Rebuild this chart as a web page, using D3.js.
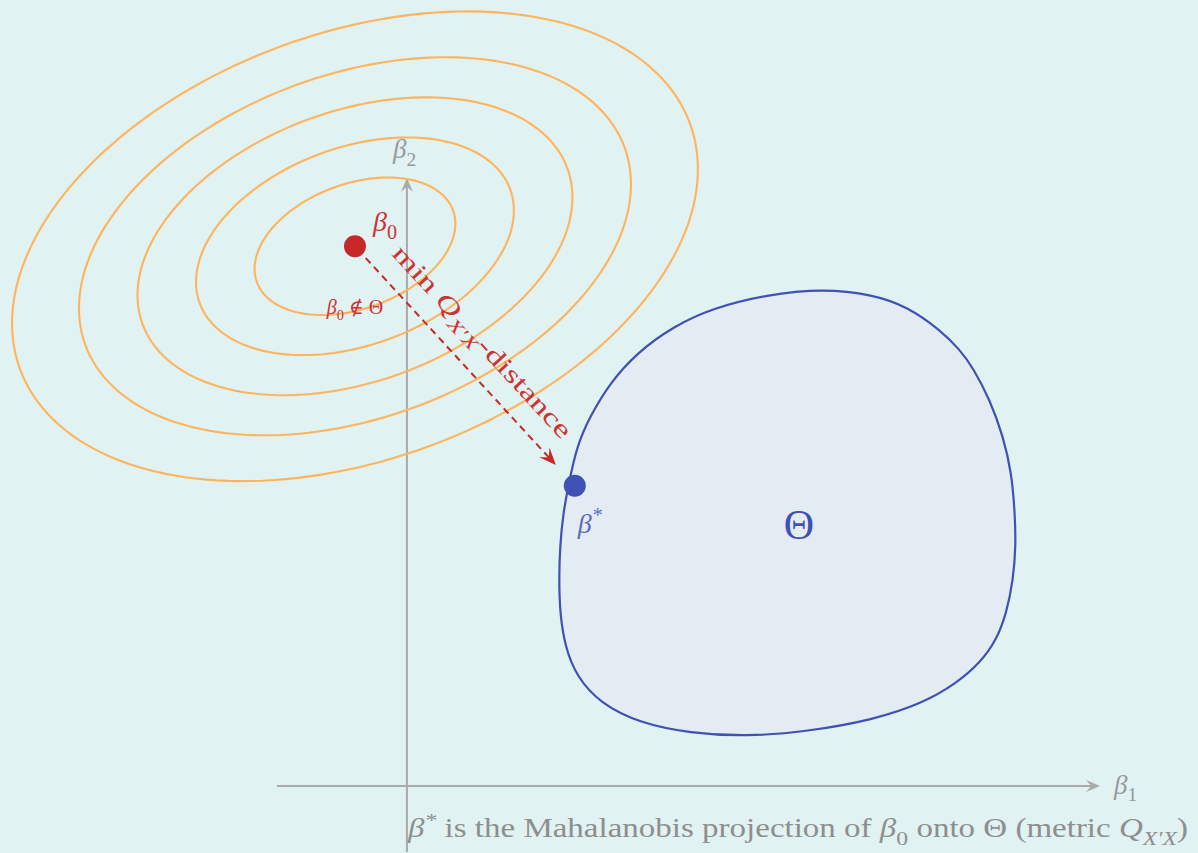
<!DOCTYPE html>
<html>
<head>
<meta charset="utf-8">
<script src="https://cdn.jsdelivr.net/npm/d3@7"></script>
<style>
  html, body { margin: 0; padding: 0; background: #e0f2f1; }
  svg { display: block; }
</style>
</head>
<body>
<svg id="chart" width="1198" height="853"></svg>
<script>
// ---- Geometry in (β1, β2) coordinates ----
const xDomain = [-1.2, 6.4];
const yDomain = [-0.61, 5.61];

const beta0 = [-0.48, 4.98];          // unconstrained estimate
const betaStar = [1.55, 2.77];        // projection onto Θ
const thetaLabelPos = [3.62, 2.39];

// Q_{X'X} contour ellipses around β0: levels of the Mahalanobis distance
const contourLevels = [0.6, 0.95, 1.3, 1.65, 2.05];
const unitSemiAxes = [1.607, 0.960];  // semi-axes of the level-1 ellipse
const contourAngleDeg = 20.1;

// Boundary of the feasible set Θ (closed smooth curve)
const thetaX = [3.844, 4.306, 4.614, 4.922, 5.106, 5.229, 5.383, 5.506, 5.584, 5.614, 5.623, 5.598, 5.537,
                5.445, 5.291, 5.076, 4.767, 4.306, 3.691, 3.137, 2.613, 2.151, 1.782, 1.567, 1.459, 1.413,
                1.404, 1.413, 1.443, 1.489, 1.567, 1.690, 1.874, 2.121, 2.459, 2.828, 3.321];
const thetaY = [4.589, 4.534, 4.426, 4.211, 4.026, 3.857, 3.564, 3.225, 2.887, 2.518, 2.210, 1.902, 1.595,
                1.348, 1.133, 0.948, 0.764, 0.609, 0.501, 0.455, 0.487, 0.579, 0.764, 1.009, 1.286, 1.595,
                1.902, 2.210, 2.518, 2.764, 3.133, 3.410, 3.718, 3.995, 4.241, 4.411, 4.534];

// ---- Colours ----
const C = {
  bg: "#e0f2f1",
  contour: "#ffb35c",
  theta: "#3f51b5",
  thetaFill: "#e4ecf3",
  red: "#c62828",
  redText: "#cc3333",
  blueText: "#5c6bc0",
  axis: "#aaaaaa",
  axisText: "#999999",
  caption: "#8e8e8e"
};

const W = 1198, H = 853;
const svg = d3.select("#chart");
const x = d3.scaleLinear().domain(xDomain).range([277, 1100]);
const y = d3.scaleLinear().domain(yDomain).range([852, 178]);

svg.append("rect").attr("width", W).attr("height", H).attr("fill", C.bg);

// Stealth-style arrowhead with its tip at (tx, ty) pointing along angle (radians)
function arrowHead(g, tx, ty, ang, len, half, color) {
  const p = [[0, 0], [-len, half], [-len * 0.62, 0], [-len, -half]];
  const c = Math.cos(ang), s = Math.sin(ang);
  const pts = p.map(([a, b]) => [tx + a * c - b * s, ty + a * s + b * c]);
  g.append("path")
    .attr("d", "M" + pts.map(q => q.join(",")).join("L") + "Z")
    .attr("fill", color);
}

// Rich math-like text: parts are [string, style] with style in i, r, sub, subr, sup
function mathText(g, parts, opts) {
  const t = g.append("text")
    .attr("x", opts.x).attr("y", opts.y)
    .attr("fill", opts.color)
    .attr("font-family", "'Liberation Serif', 'DejaVu Serif', serif")
    .attr("font-size", opts.size)
    .attr("text-anchor", opts.anchor || "start");
  if (opts.rotate) t.attr("transform", `rotate(${opts.rotate},${opts.x},${opts.y})`);
  if (opts.length) t.attr("textLength", opts.length).attr("lengthAdjust", "spacingAndGlyphs");
  let shift = 0;
  parts.forEach(([str, st]) => {
    const ts = t.append("tspan").text(str);
    let target = 0;
    if (st === "sub" || st === "subr") { target = opts.size * 0.28; ts.attr("font-size", opts.size * 0.72); }
    if (st === "sup") { target = -opts.size * 0.38; ts.attr("font-size", opts.size * 0.72); }
    if (st === "i" || st === "sub" || st === "sup") ts.attr("font-style", "italic");
    if (target !== shift) { ts.attr("dy", target - shift); shift = target; }
  });
  return t;
}

// ---- Axes ----
const axes = svg.append("g");
const ox = x(0), oy = y(0);
axes.append("line").attr("x1", x(xDomain[0])).attr("x2", x(xDomain[1]) - 8)
  .attr("y1", oy).attr("y2", oy).attr("stroke", C.axis).attr("stroke-width", 2);
arrowHead(axes, x(xDomain[1]), oy, 0, 14, 6, C.axis);
axes.append("line").attr("x1", ox).attr("x2", ox)
  .attr("y1", y(yDomain[0])).attr("y2", y(yDomain[1]) + 8)
  .attr("stroke", C.axis).attr("stroke-width", 2);
arrowHead(axes, ox, y(yDomain[1]), -Math.PI / 2, 14, 6, C.axis);

mathText(axes, [["β", "i"], ["1", "subr"]], { x: x(xDomain[1]) + 14, y: oy + 8, size: 27, color: C.axisText });
mathText(axes, [["β", "i"], ["2", "subr"]], { x: ox - 14, y: y(yDomain[1]) - 20, size: 27, color: C.axisText });

// ---- Contours of the quadratic form around β0 ----
const phi = contourAngleDeg * Math.PI / 180;
const line = d3.line().x(d => x(d[0])).y(d => y(d[1])).curve(d3.curveLinearClosed);
const contours = svg.append("g");
contourLevels.forEach(c => {
  const pts = d3.range(0, 360, 2).map(deg => {
    const t = deg * Math.PI / 180;
    const lx = c * unitSemiAxes[0] * Math.cos(t), ly = c * unitSemiAxes[1] * Math.sin(t);
    return [beta0[0] + lx * Math.cos(phi) - ly * Math.sin(phi),
            beta0[1] + lx * Math.sin(phi) + ly * Math.cos(phi)];
  });
  contours.append("path").attr("d", line(pts))
    .attr("fill", "none").attr("stroke", C.contour).attr("stroke-width", 2.1);
});

// ---- Feasible set Θ ----
const thetaPts = thetaX.map((v, i) => [v, thetaY[i]]);
const smooth = d3.line().x(d => x(d[0])).y(d => y(d[1])).curve(d3.curveBasisClosed);
svg.append("path").attr("d", smooth(thetaPts))
  .attr("fill", C.thetaFill).attr("stroke", C.theta).attr("stroke-width", 2.2);

mathText(svg, [["Θ", "r"]], { x: x(thetaLabelPos[0]), y: y(thetaLabelPos[1]) + 12, size: 42, color: C.theta, anchor: "middle" });

// ---- Projection arrow β0 → β* ----
const p0 = [x(beta0[0]), y(beta0[1])];
const p1 = [x(betaStar[0]), y(betaStar[1])];
const dx = p1[0] - p0[0], dy = p1[1] - p0[1];
const dist = Math.hypot(dx, dy);
const ux = dx / dist, uy = dy / dist;
const startGap = 16, endGap = 28;
const s = [p0[0] + ux * startGap, p0[1] + uy * startGap];
const e = [p1[0] - ux * endGap, p1[1] - uy * endGap];
const arrow = svg.append("g");
arrow.append("line")
  .attr("x1", s[0]).attr("y1", s[1])
  .attr("x2", e[0] - ux * 10).attr("y2", e[1] - uy * 10)
  .attr("stroke", C.red).attr("stroke-width", 2).attr("stroke-dasharray", "7,5");
const ang = Math.atan2(dy, dx);
arrowHead(arrow, e[0], e[1], ang, 17, 7, C.red);

// Label along the arrow
const mid = [(s[0] + e[0]) / 2, (s[1] + e[1]) / 2];
const nx = uy, ny = -ux;
mathText(arrow, [["min ", "r"], ["Q", "i"], ["X′X", "sub"], ["-distance", "r"]], {
  x: mid[0] + nx * 21, y: mid[1] + ny * 21, size: 25, color: C.redText,
  anchor: "middle", rotate: ang * 180 / Math.PI, length: 252
});

// ---- Points ----
svg.append("circle").attr("cx", p0[0]).attr("cy", p0[1]).attr("r", 11).attr("fill", C.red);
svg.append("circle").attr("cx", p1[0]).attr("cy", p1[1]).attr("r", 11).attr("fill", C.theta);

mathText(svg, [["β", "i"], ["0", "subr"]], { x: p0[0] + 18, y: p0[1] - 15, size: 28, color: C.redText });
mathText(svg, [["β", "i"], ["0", "subr"], [" ∉ Θ", "r"]], { x: p0[0], y: p0[1] + 68, size: 20, color: C.redText, anchor: "middle" });
mathText(svg, [["β", "i"], ["*", "sup"]], { x: p1[0] + 3, y: p1[1] + 47, size: 28, color: C.blueText });

// ---- Caption ----
mathText(svg, [["β", "i"], ["*", "sup"], [" is the Mahalanobis projection of ", "r"], ["β", "i"], ["0", "subr"],
               [" onto Θ (metric ", "r"], ["Q", "i"], ["X′X", "sub"], [")", "r"]],
  { x: 408, y: 837, size: 27, color: C.caption, length: 780 });
</script>
</body>
</html>
